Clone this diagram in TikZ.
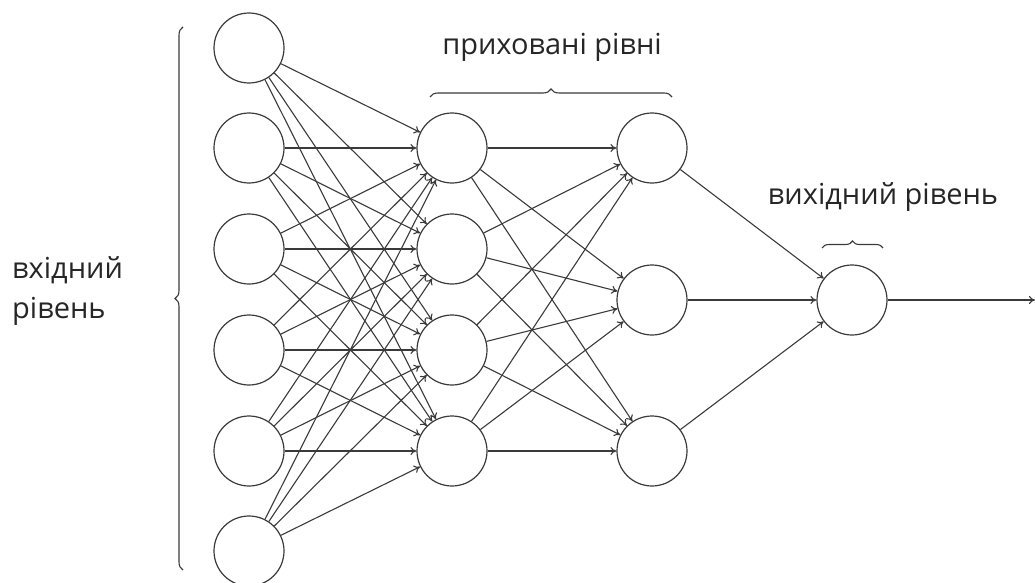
\documentclass[tikz,border=0pt]{standalone}
\usepackage{fontspec}
\setmainfont{Open Sans}
\usetikzlibrary{arrows.meta,decorations.pathreplacing}
\definecolor{ln}{HTML}{3A3A3A}
\definecolor{tx}{HTML}{262626}
\tikzset{
  neuron/.style={circle,draw=ln,line width=1.2pt,minimum size=70pt,inner sep=0pt,fill=white},
  conn/.style={draw=ln,line width=1.1pt,-{To[length=6pt,width=8pt]}},
  brc/.style={draw=ln,line width=1.1pt,decorate,decoration={brace,amplitude=8pt}},
  lbl/.style={text=tx,font=\fontsize{29}{40}\selectfont,inner sep=0pt}
}
\begin{document}
\begin{tikzpicture}[x=1pt,y=-1pt]
\useasboundingbox (0,0) rectangle (1035,583);
% input layer
\foreach \i/\y in {1/48,2/148,3/249,4/350,5/451,6/551}
  \node[neuron] (i\i) at (249,\y) {};
% hidden layer 1
\foreach \i/\y in {1/148,2/249,3/350,4/451}
  \node[neuron] (h\i) at (452,\y) {};
% hidden layer 2
\foreach \i/\y in {1/148,2/300,3/451}
  \node[neuron] (g\i) at (652,\y) {};
% output
\node[neuron] (o) at (852,300) {};
\coordinate (out) at (1035,300);
% connections
\foreach \a in {1,...,6}
  \foreach \b in {1,...,4}
    \path[conn] (i\a) -- (h\b);
\foreach \a in {1,...,4}
  \foreach \b in {1,...,3}
    \path[conn] (h\a) -- (g\b);
\foreach \a in {1,...,3}
  \path[conn] (g\a) -- (o);
\path[conn] (o) -- (out);
% braces
\coordinate (lb1) at (183,570);
\coordinate (lb2) at (183,27);
\path[brc] (lb1) -- (lb2);
\coordinate (tb1) at (430,97);
\coordinate (tb2) at (672,97);
\path[brc] (tb1) -- (tb2);
\coordinate (ob1) at (822,248);
\coordinate (ob2) at (883,248);
\path[brc,decoration={brace,amplitude=7pt}] (ob1) -- (ob2);
% labels
\node[lbl] (thid) at (552,47) {приховані рівні};
\node[lbl] (tout) at (883,197) {вихідний рівень};
\node[lbl,align=left,anchor=west] (tin) at (12,291) {вхідний\\рівень};
\end{tikzpicture}
\end{document}
